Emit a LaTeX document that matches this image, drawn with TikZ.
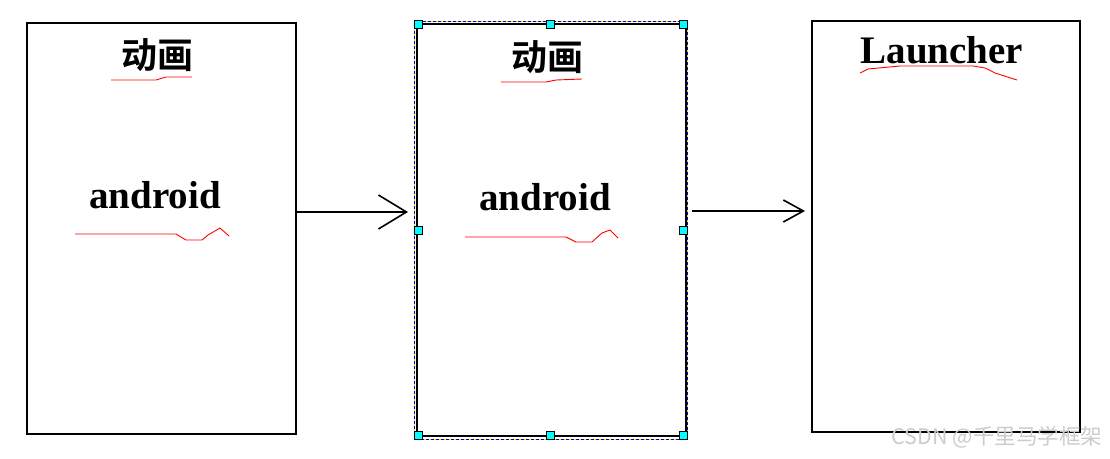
\documentclass[tikz,border=0pt]{standalone}
\usepackage{fontspec}
\setmainfont{Liberation Serif}
\newfontfamily\cjkb{Noto Sans CJK SC Bold}
\newfontfamily\cjkr{Noto Sans CJK SC}
\usetikzlibrary{arrows.meta}
\definecolor{hcyan}{RGB}{0,255,255}
\definecolor{selblue}{RGB}{0,0,200}
\definecolor{selyel}{RGB}{235,225,40}
\tikzset{
  frame/.style={draw=black, line width=2pt, inner sep=0pt, outer sep=0pt},
  title/.style={font=\cjkb\fontsize{36}{38}\selectfont, inner sep=0pt},
  word/.style={font=\bfseries\fontsize{39}{41}\selectfont, inner sep=0pt, anchor=base},
  squig/.style={draw=red, line width=0.9pt},
  handle/.style={draw=black, fill=hcyan, line width=0.8pt, minimum size=8pt, inner sep=0pt},
  conn/.style={draw=black, line width=1.6pt},
}
\begin{document}
\begin{tikzpicture}[x=1pt,y=-1pt]
\useasboundingbox[fill=white] (0,0) rectangle (1110,458);
% boxes
\node[frame, minimum width=269pt, minimum height=411pt] (b1) at (161.5,228.5) {};
\node[frame, minimum width=269pt, minimum height=412pt] (b2) at (551.5,230) {};
\node[frame, minimum width=268pt, minimum height=411pt] (b3) at (946,226.5) {};
% selection rectangle
\draw[selyel, line width=0.8pt] (414,21) rectangle (687,439);
\draw[selblue, line width=0.8pt, dash pattern=on 3pt off 2pt] (414,21) rectangle (687,439);
\foreach \p/\n in {{(418,24)}/h1,{(550,24)}/h2,{(683,24)}/h3,{(418,230)}/h4,{(683,230)}/h5,{(418,435)}/h6,{(550,435)}/h7,{(683,435)}/h8}
  \node[handle] (\n) at \p {};
% texts
\node[title] (t1) at (157,55) {动画};
\node[title] (t2) at (547,57) {动画};
\node[word] (a1) at (155,208) {android};
\node[word] (a2) at (545,210) {android};
\node[word] (l3) at (942,63) {Launcher};
% squiggles
\draw[squig] (111,80) -- (156,80) -- (166,77) -- (192,77);
\draw[squig] (75,234) -- (176,234) -- (186,240) -- (202,240) -- (208,235) -- (220,228) -- (229,236);
\draw[squig] (501,82) -- (546,82) -- (556,80) -- (582,79);
\draw[squig] (465,237) -- (566,237) -- (576,242) -- (592,242) -- (602,233) -- (610,230) -- (618,238);
\draw[squig] (860,73) -- (868,69) -- (900,66) -- (973,66) -- (985,68) -- (995,73) -- (1017,80);
% arrows
\coordinate (e1) at (b1.east |- 0,212);
\coordinate (tip1) at (408,212);
\coordinate (e2) at (b2.east |- 0,211);
\coordinate (tip2) at (805,211);
\draw[conn, -{Straight Barb[length=28pt,width=34pt,line width=1.6pt]}] (e1) -- (tip1);
\draw[conn, shorten <=6pt, -{Straight Barb[length=20pt,width=22pt,line width=1.6pt]}] (e2) -- (tip2);
% watermark
\node[font=\cjkr\fontsize{21.5}{23}\selectfont, text=black!20, inner sep=0pt] (wm) at (997,437) {CSDN @千里马学框架};
\end{tikzpicture}
\end{document}
